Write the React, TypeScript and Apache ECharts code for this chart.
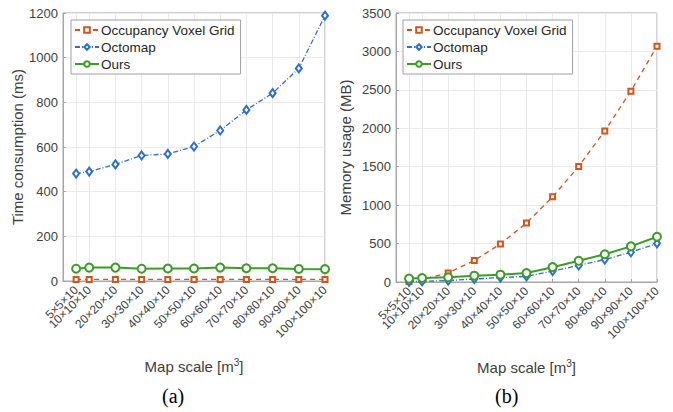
import React, { useEffect, useRef } from "react";
import * as echarts from "echarts";

const scales = [5, 10, 20, 30, 40, 50, 60, 70, 80, 90, 100];
const scaleLabels = ["5×5×10", "10×10×10", "20×20×10", "30×30×10", "40×40×10", "50×50×10", "60×60×10", "70×70×10", "80×80×10", "90×90×10", "100×100×10"];
const seriesNames = ["Occupancy Voxel Grid", "Octomap", "Ours"];

const timeOVG = [7, 7, 7, 7, 7, 7, 7, 7, 7, 7, 7];
const timeOctomap = [481, 490, 522, 562, 569, 602, 674, 766, 841, 952, 1188];
const timeOurs = [55, 60, 60, 55, 56, 56, 60, 57, 57, 54, 53];

const memOVG = [8, 30, 118, 280, 495, 768, 1108, 1504, 1966, 2483, 3068];
const memOctomap = [3, 9, 18, 39, 57, 73, 142, 215, 292, 387, 502];
const memOurs = [44, 52, 61, 82, 95, 116, 193, 276, 361, 464, 589];

const yTicksLeft = { min: 0, max: 1200, interval: 200 };
const yTicksRight = { min: 0, max: 3500, interval: 500 };

const COL_OVG = "#D95319";
const COL_OCT = "#2B6FD6";
const COL_OURS = "#3A9E26";
const AXIS_COL = "#a6a6a6";
const TEXT_COL = "#404040";
const FONT = "Liberation Sans";

function zip(xs: number[], ys: number[]) {
  return xs.map((x, i) => [x, ys[i]]);
}

export default function App() {
  const ref = useRef<HTMLDivElement>(null);
  useEffect(() => {
    if (!ref.current) return;
    const chart = echarts.init(ref.current, undefined, { renderer: "svg" });
    const labelMap: Record<number, string> = {};
    scales.forEach((s, i) => (labelMap[s] = scaleLabels[i]));

    const labelStyle = (values: number[]) => ({
      customValues: values,
      rotate: 45,
      margin: 7,
      hideOverlap: false,
      fontFamily: FONT,
      fontSize: 12,
      color: TEXT_COL,
      formatter: (v: number) => labelMap[v] || "",
    });

    const xAxis = (gridIndex: number) => ({
      type: "value",
      gridIndex,
      position: "bottom",
      min: 0,
      max: 100,
      interval: 10,
      name: "Map scale [m{sup|3}]",
      nameLocation: "middle",
      nameGap: 76,
      nameTextStyle: {
        fontFamily: FONT,
        fontSize: 15,
        color: TEXT_COL,
        rich: { sup: { fontSize: 10, verticalAlign: "top", padding: [0, 0, 8, 0], fontFamily: FONT, color: TEXT_COL } },
      },
      axisLine: { show: true, lineStyle: { color: AXIS_COL } },
      axisTick: { show: true, inside: true, length: 3, customValues: scales, lineStyle: { color: AXIS_COL } },
      splitLine: { show: true, lineStyle: { color: "#ebebeb" } },
      axisLabel: labelStyle(scales.slice(1)),
    });

    // helper axis carrying only the first (overlapping) category label
    const xAxisFirst = (gridIndex: number) => ({
      type: "value",
      gridIndex,
      position: "bottom",
      offset: 0,
      min: 0,
      max: 100,
      interval: 10,
      axisLine: { show: false },
      axisTick: { show: false },
      splitLine: { show: false },
      axisLabel: labelStyle([scales[0]]),
    });

    const yAxis = (gridIndex: number, t: any, name: string) => ({
      type: "value",
      gridIndex,
      min: t.min,
      max: t.max,
      interval: t.interval,
      name,
      nameLocation: "middle",
      nameGap: gridIndex === 0 ? 36 : 43,
      nameTextStyle: { fontFamily: FONT, fontSize: 15, color: TEXT_COL },
      axisLine: { show: true, lineStyle: { color: AXIS_COL } },
      axisTick: { show: true, inside: true, length: 3, lineStyle: { color: AXIS_COL } },
      splitLine: { show: true, lineStyle: { color: "#ebebeb" } },
      axisLabel: { fontFamily: FONT, fontSize: 13, color: TEXT_COL, margin: 5, formatter: (v: number) => String(v) },
    });

    const mk = (name: string, idx: number, data: number[]) => {
      const base: any = {
        name,
        type: "line",
        xAxisIndex: idx,
        yAxisIndex: idx,
        data: zip(scales, data),
        showAllSymbol: true,
      };
      if (name === seriesNames[0]) {
        return { ...base, z: 3, symbol: "emptyRect", symbolSize: 5, lineStyle: { color: COL_OVG, width: 1.3, type: [5, 4] }, itemStyle: { color: COL_OVG, borderWidth: 1.3 } };
      }
      if (name === seriesNames[1]) {
        return { ...base, z: 4, symbol: "emptyDiamond", symbolSize: [6, 8], lineStyle: { color: COL_OCT, width: 1.3, type: [5, 2, 1, 2] }, itemStyle: { color: COL_OCT, borderWidth: 1.3 } };
      }
      return { ...base, z: 5, symbol: "emptyCircle", symbolSize: 8, lineStyle: { color: COL_OURS, width: 2 }, itemStyle: { color: COL_OURS, borderWidth: 2 } };
    };

    const legend = (left: number) => ({
      data: seriesNames,
      orient: "vertical",
      left,
      top: 20,
      itemWidth: 24,
      itemHeight: 7,
      itemGap: 3,
      padding: [3, 6, 3, 3],
      backgroundColor: "#ffffff",
      borderColor: "#a0a0a0",
      borderWidth: 1,
      borderRadius: 0,
      textStyle: { fontFamily: FONT, fontSize: 13.5, color: "#262626", padding: [0, 0, 0, -3] },
    });

    chart.setOption({
      animation: false,
      backgroundColor: "#ffffff",
      grid: [
        { left: 63, top: 13, width: 262, height: 268, show: true, borderColor: AXIS_COL, borderWidth: 1, backgroundColor: "transparent" },
        { left: 396, top: 13, width: 261, height: 269, show: true, borderColor: AXIS_COL, borderWidth: 1, backgroundColor: "transparent" },
      ],
      xAxis: [xAxis(0), xAxis(1), xAxisFirst(0), xAxisFirst(1)],
      yAxis: [yAxis(0, yTicksLeft, "Time consumption (ms)"), yAxis(1, yTicksRight, "Memory usage (MB)")],
      legend: [legend(71), legend(403)],
      series: [
        mk(seriesNames[0], 0, timeOVG),
        mk(seriesNames[1], 0, timeOctomap),
        mk(seriesNames[2], 0, timeOurs),
        mk(seriesNames[0], 1, memOVG),
        mk(seriesNames[1], 1, memOctomap),
        mk(seriesNames[2], 1, memOurs),
      ],
      graphic: [
        { type: "text", left: 162, top: 386, style: { text: "(a)", font: '20px "Liberation Serif"', fill: "#000" } },
        { type: "text", left: 495, top: 386, style: { text: "(b)", font: '20px "Liberation Serif"', fill: "#000" } },
      ],
    });
    return () => chart.dispose();
  }, []);
  return <div ref={ref} style={{ position: "absolute", left: 0, top: 0, width: 673, height: 412 }} />;
}
